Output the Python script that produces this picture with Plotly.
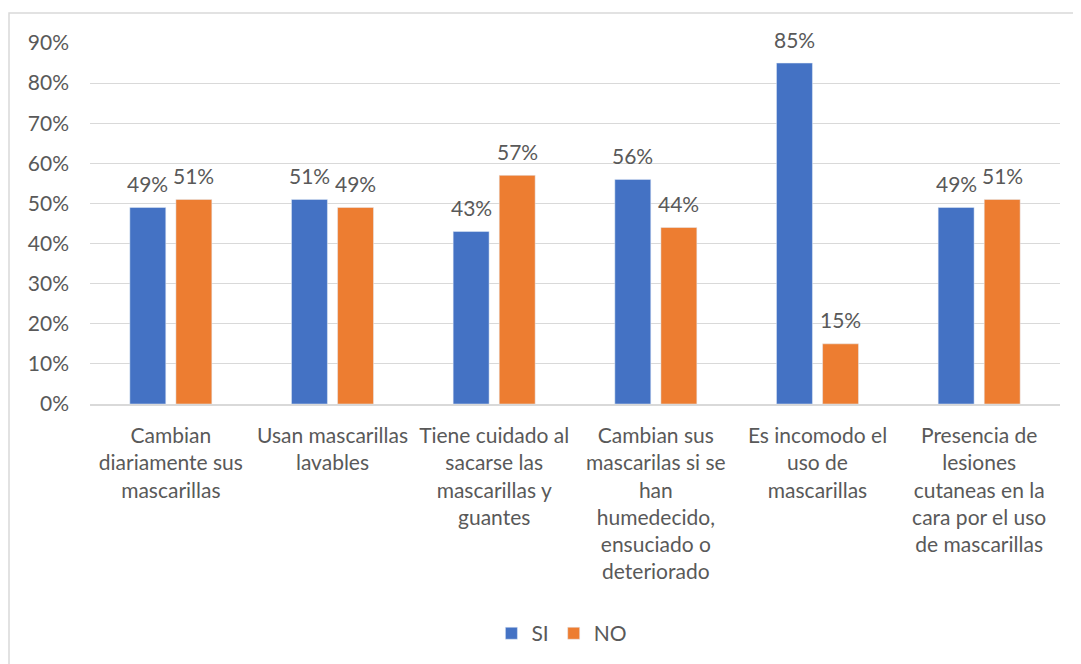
import plotly.graph_objects as go

categories = [
    "Cambian<br>diariamente sus<br>mascarillas",
    "Usan mascarillas<br>lavables",
    "Tiene cuidado al<br>sacarse las<br>mascarillas y<br>guantes",
    "Cambian sus<br>mascarilas si se<br>han<br>humedecido,<br>ensuciado o<br>deteriorado",
    "Es incomodo el<br>uso de<br>mascarillas",
    "Presencia de<br>lesiones<br>cutaneas en la<br>cara por el uso<br>de mascarillas",
]
si_values = [0.49, 0.51, 0.43, 0.56, 0.85, 0.49]
no_values = [0.51, 0.49, 0.57, 0.44, 0.15, 0.51]
tick_vals = [0, 0.1, 0.2, 0.3, 0.4, 0.5, 0.6, 0.7, 0.8, 0.9]
tick_text = ["0%", "10%", "20%", "30%", "40%", "50%", "60%", "70%", "80%", "90%"]

FONT = "Lato"
GREY = "#595959"
FS = 21

fig = go.Figure()
fig.add_trace(go.Bar(name="SI", x=categories, y=si_values, marker_color="#4472C4"))
fig.add_trace(go.Bar(name="NO", x=categories, y=no_values, marker_color="#ED7D31"))

annotations = []
for vals, shift in ((si_values, -23), (no_values, 23)):
    for c, v in zip(categories, vals):
        annotations.append(dict(
            x=c, y=v, xref="x", yref="y", text=f"{round(v*100)}%", showarrow=False,
            xshift=shift, yshift=24, yanchor="middle",
            font=dict(size=FS, color=GREY, family=FONT),
        ))

fig.update_layout(
    width=1073, height=656,
    margin=dict(l=82, r=21, t=35, b=260, autoexpand=False),
    paper_bgcolor="white", plot_bgcolor="white",
    barmode="group", bargap=0.43, bargroupgap=0.22,
    font=dict(family=FONT, size=FS, color=GREY),
    legend=dict(orientation="h", x=0.4865, xanchor="center", y=-0.636, yanchor="middle",
                font=dict(size=FS, color=GREY, family=FONT), itemwidth=30, traceorder="normal"),
    showlegend=True,
    annotations=annotations,
    shapes=[dict(type="rect", xref="paper", yref="paper",
                 x0=-0.0835, x1=1.02, y0=-0.75, y1=1.083,
                 line=dict(color="#d9d9d9", width=1.5), fillcolor="rgba(0,0,0,0)", layer="below")],
)
fig.update_yaxes(range=[0, 0.9], tickvals=tick_vals, ticktext=tick_text, automargin=False,
                 showgrid=True, gridcolor="#d9d9d9", gridwidth=1.3, zeroline=False,
                 showline=False, tickfont=dict(size=FS, color=GREY, family=FONT),
                 ticklabelstandoff=20)
fig.update_xaxes(showline=True, linecolor="#d9d9d9", linewidth=1.5, ticks="", automargin=False,
                 tickfont=dict(size=FS, color=GREY, family=FONT), ticklabelstandoff=12,
                 tickangle=0)

fig.write_html("out.html")
